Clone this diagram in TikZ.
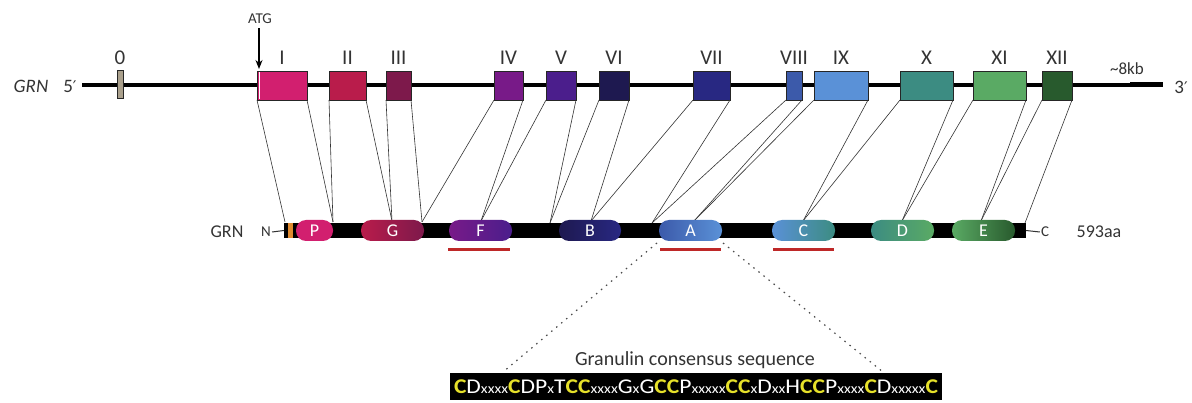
\documentclass[tikz,border=0pt]{standalone}
\usepackage{fontspec}
\setmainfont{Carlito}
\newfontfamily\primefont{DejaVu Sans}
\usetikzlibrary{arrows.meta}
\definecolor{c0}{HTML}{AAA08C}
\definecolor{cI}{HTML}{D21F6F}
\definecolor{cII}{HTML}{B91C4B}
\definecolor{cIII}{HTML}{7D194B}
\definecolor{cIV}{HTML}{781A88}
\definecolor{cV}{HTML}{4B1E8C}
\definecolor{cVI}{HTML}{1E1950}
\definecolor{cVII}{HTML}{282882}
\definecolor{cVIII}{HTML}{3C5AAA}
\definecolor{cIX}{HTML}{5A91D7}
\definecolor{cX}{HTML}{3C8C82}
\definecolor{cXI}{HTML}{5AAA64}
\definecolor{cXII}{HTML}{285A2D}
\definecolor{redu}{HTML}{BE2828}
\definecolor{seqY}{HTML}{E6E12A}
\definecolor{orng}{HTML}{E08A30}
\definecolor{txt}{HTML}{333333}
\newcommand{\Yc}{\textcolor{seqY}{\bfseries C}}
\newcommand{\xs}[1]{{\fontsize{14}{14}\selectfont #1}}
\newcommand{\prm}{{\primefont\fontsize{16}{16}\selectfont ′}}
\begin{document}
\begin{tikzpicture}[x=1pt,y=-1pt,
  exon/.style={draw=black!85,line width=0.8pt,inner sep=0pt,outer sep=0pt,minimum height=29pt},
  exlab/.style={font=\fontsize{21}{21}\selectfont,text=txt,inner sep=0pt},
  lab/.style={font=\fontsize{18}{18}\selectfont,text=txt,inner sep=0pt},
  conn/.style={draw=black!80,line width=0.6pt},
  dom/.style={rounded corners=10pt,minimum width=63pt,minimum height=21pt,inner sep=0pt,outer sep=0pt,text=white,font=\fontsize{18}{18}\selectfont},
  redline/.style={draw=redu,line width=3.5pt},
  dotline/.style={draw=black!70,line width=1.2pt,dash pattern=on 1.5pt off 5pt}]
\useasboundingbox (0,0) rectangle (1192,403);
% genomic line
\draw[line width=4pt] (82,85) -- (1163,85);
\draw[line width=5pt] (1130,85) -- (1163,85);
\node[lab,font=\fontsize{19}{19}\selectfont\itshape] (grn) at (31,86) {GRN};
\node[lab,font=\fontsize{19}{19}\selectfont] (five) at (70,86) {5\prm};
\node[lab,font=\fontsize{19}{19}\selectfont] (three) at (1181,87) {3\prm};
\node[lab,font=\fontsize{17}{17}\selectfont] (kb) at (1127,69) {\textasciitilde 8kb};
% exons
\node[exon,fill=c0,minimum width=6pt,minimum height=28pt] (e0) at (120,84) {};
\node[exon,fill=cI,minimum width=50pt] (eI) at (282,85.5) {};
\draw[white,line width=1pt] (259.5,72) -- (259.5,99);
\node[exon,fill=cII,minimum width=37pt] (eII) at (347.5,85.5) {};
\node[exon,fill=cIII,minimum width=25pt] (eIII) at (398.5,85.5) {};
\node[exon,fill=cIV,minimum width=29pt] (eIV) at (508.5,85.5) {};
\node[exon,fill=cV,minimum width=30pt] (eV) at (561,85.5) {};
\node[exon,fill=cVI,minimum width=30pt] (eVI) at (614,85.5) {};
\node[exon,fill=cVII,minimum width=37pt] (eVII) at (711.5,85.5) {};
\node[exon,fill=cVIII,minimum width=16pt] (eVIII) at (794,85.5) {};
\node[exon,fill=cIX,minimum width=54pt] (eIX) at (841,85.5) {};
\node[exon,fill=cX,minimum width=53pt] (eX) at (926.5,85.5) {};
\node[exon,fill=cXI,minimum width=53pt] (eXI) at (999.5,85.5) {};
\node[exon,fill=cXII,minimum width=30pt] (eXII) at (1057,85.5) {};
% exon labels
\node[exlab] (l0) at (120,58) {0};
\node[exlab] (lI) at (282,58) {I};
\node[exlab] (lII) at (347.5,58) {II};
\node[exlab] (lIII) at (398.5,58) {III};
\node[exlab] (lIV) at (508.5,58) {IV};
\node[exlab] (lV) at (561,58) {V};
\node[exlab] (lVI) at (614,58) {VI};
\node[exlab] (lVII) at (711.5,58) {VII};
\node[exlab] (lVIII) at (794,58) {VIII};
\node[exlab] (lIX) at (841,58) {IX};
\node[exlab] (lX) at (926.5,58) {X};
\node[exlab] (lXI) at (999.5,58) {XI};
\node[exlab] (lXII) at (1057,58) {XII};
% ATG
\node[lab,font=\fontsize{15}{15}\selectfont] (atg) at (260,19) {ATG};
\coordinate (atgtip) at (259,69);
\draw[line width=1.3pt,-{Stealth[length=9pt,width=7pt]}] (atg.south -| atgtip) ++(0,4) -- (atgtip);
% bar-top points
\coordinate (tN) at (285,222);
\coordinate (tP) at (333,222);
\coordinate (tG) at (392,221);
\coordinate (tGr) at (422,222);
\coordinate (tF) at (481,221);
\coordinate (tFB) at (550,223);
\coordinate (tB) at (591,221);
\coordinate (tBA) at (652,223);
\coordinate (tA) at (694,221);
\coordinate (tC) at (803,221);
\coordinate (tD) at (902,221);
\coordinate (tE) at (981,221);
\coordinate (tEnd) at (1025,223);
% connectors
\draw[conn] (eI.south west) -- (tN);
\draw[conn] (eI.south east) -- (tP);
\draw[conn] (eII.south west) -- (tP);
\draw[conn] (eII.south east) -- (tG);
\draw[conn] (eIII.south west) -- (tG);
\draw[conn] (eIII.south east) -- (tGr);
\draw[conn] (eIV.south west) -- (tGr);
\draw[conn] (eIV.south east) -- (tF);
\draw[conn] (eV.south west) -- (tF);
\draw[conn] (eV.south east) -- (tFB);
\draw[conn] (eVI.south west) -- (tFB);
\draw[conn] (eVI.south east) -- (tB);
\draw[conn] (eVII.south west) -- (tB);
\draw[conn] (eVII.south east) -- (tBA);
\draw[conn] (eVIII.south west) -- (tBA);
\draw[conn] (eVIII.south east) -- (tA);
\draw[conn] (eIX.south west) -- (tA);
\draw[conn] (eIX.south east) -- (tC);
\draw[conn] (eX.south west) -- (tC);
\draw[conn] (eX.south east) -- (tD);
\draw[conn] (eXI.south west) -- (tD);
\draw[conn] (eXI.south east) -- (tE);
\draw[conn] (eXII.south west) -- (tE);
\draw[conn] (eXII.south east) -- (tEnd);
% protein bar
\node[fill=black,minimum width=742pt,minimum height=15pt,inner sep=0pt,outer sep=0pt] (bar) at (655,230.5) {};
\fill[orng] (287.5,223) rectangle (293,238);
\node[lab] (pgrn) at (227,232) {GRN};
\node[lab,font=\fontsize{15}{15}\selectfont] (nterm) at (266,232) {N};
\node[lab,font=\fontsize{15}{15}\selectfont] (cterm) at (1045,232) {C};
\draw[line width=1pt,black!80] (nterm.east) ++(1,0) -- (bar.west);
\draw[line width=1pt,black!80] (bar.east) -- ([xshift=-1pt]cterm.west);
\node[lab] (aa) at (1099,232) {593aa};
% domains
\node[dom,fill=cI,minimum width=37pt] (dP) at (314.5,230.5) {P};
\node[dom,left color=cII,right color=cIII] (dG) at (392.5,230.5) {G};
\node[dom,left color=cIV,right color=cV] (dF) at (480.5,230.5) {F};
\node[dom,left color=cVI,right color=cVII,minimum width=62pt] (dB) at (590,230.5) {B};
\node[dom,left color=cVIII,right color=cIX] (dA) at (690.5,230.5) {A};
\node[dom,left color=cIX,right color=cX] (dC) at (803.5,230.5) {C};
\node[dom,left color=cX,right color=cXI] (dD) at (902.5,230.5) {D};
\node[dom,left color=cXI,right color=cXII] (dE) at (983.5,230.5) {E};
% red underlines
\draw[redline] (448,249.5) -- (510,249.5);
\draw[redline] (660,249.5) -- (721,249.5);
\draw[redline] (773,249.5) -- (834,249.5);
% consensus sequence
\node[fill=black,minimum width=492pt,minimum height=27pt,inner sep=0pt] (seq) at (696,386.5)
  {\resizebox{484pt}{\height}{\fontsize{21}{21}\selectfont\color{white}\Yc D\xs{xxxx}\Yc DP\xs{x}T\Yc\Yc\xs{xxxx}G\xs{x}G\Yc\Yc P\xs{xxxxx}\Yc\Yc\xs{x}D\xs{xx}H\Yc\Yc P\xs{xxxx}\Yc D\xs{xxxxx}\Yc}};
\node[lab,font=\fontsize{20}{20}\selectfont] (title) at (695,360) {Granulin consensus sequence};
\coordinate (sl) at (503,372);
\coordinate (sr) at (883,372);
\draw[dotline] (dA.south west) ++(-2,2) -- (sl);
\draw[dotline] (dA.south east) ++(1,2) -- (sr);
\end{tikzpicture}
\end{document}
